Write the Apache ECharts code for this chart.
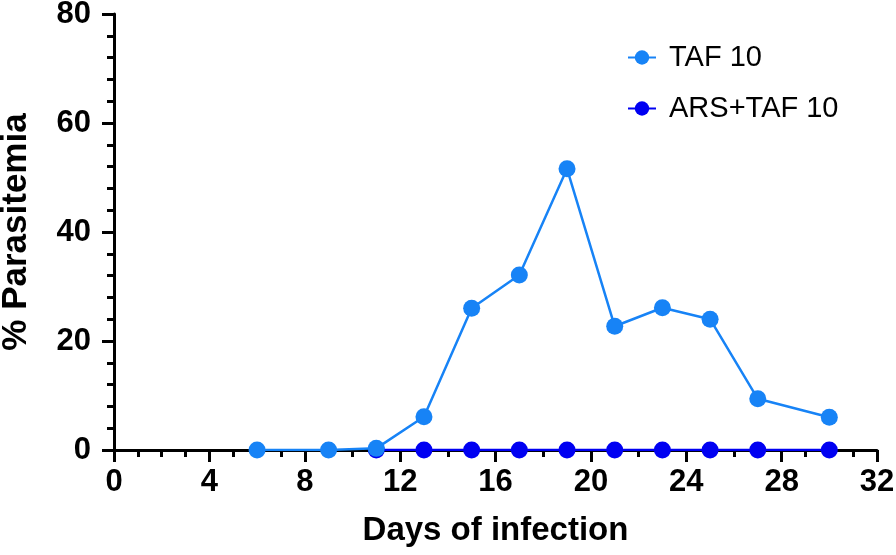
<!DOCTYPE html>
<html><head><meta charset="utf-8">
<script src="https://cdn.jsdelivr.net/npm/echarts@6/dist/echarts.min.js"></script>
<style>html,body{margin:0;padding:0;background:#fff}#c{width:896px;height:555px}</style>
</head><body><div id="c"></div>
<script>
const tafDays = [6, 9, 11, 13, 15, 17, 19, 21, 23, 25, 27, 30];
const tafValues = [0, 0, 0.3, 6.1, 26, 32.1, 51.6, 22.7, 26.1, 24, 9.4, 6];
const arsDays = [11, 13, 15, 17, 19, 21, 23, 25, 27, 30];
const arsValues = [0, 0, 0, 0, 0, 0, 0, 0, 0, 0];
const xTicks = [0, 4, 8, 12, 16, 20, 24, 28, 32];
const yTicks = [0, 20, 40, 60, 80];

const F = 'Liberation Sans, Arial, sans-serif';
const chart = echarts.init(document.getElementById('c'));
chart.setOption({
  animation: false,
  grid: {left: 114, right: 19, top: 14, bottom: 105, containLabel: false, outerBoundsMode: 'none'},
  legend: {
    orient: 'vertical', left: 622, top: 38, itemGap: 22,
    itemWidth: 28, itemHeight: 18,
    textStyle: {fontFamily: F, fontSize: 29, color: '#000', padding: [0, 0, 0, 8]},
    data: ['TAF 10', 'ARS+TAF 10']
  },
  xAxis: {
    type: 'value', min: xTicks[0], max: xTicks[xTicks.length-1], interval: 4,
    name: 'Days of infection', nameLocation: 'middle', nameGap: 64,
    nameTextStyle: {fontFamily: F, fontSize: 33, fontWeight: 'bold', color: '#000'},
    axisLine: {show: true, lineStyle: {color: '#000', width: 3}},
    axisTick: {show: true, length: 12, lineStyle: {color: '#000', width: 3}},
    minorTick: {show: true, splitNumber: 4, length: 7, lineStyle: {color: '#000', width: 3}},
    splitLine: {show: false},
    axisLabel: {fontFamily: F, fontSize: 31, fontWeight: 'bold', color: '#000', margin: 17}
  },
  yAxis: {
    type: 'value', min: yTicks[0], max: yTicks[yTicks.length-1], interval: 20,
    name: '% Parasitemia', nameLocation: 'middle', nameGap: 80,
    nameTextStyle: {fontFamily: F, fontSize: 35, fontWeight: 'bold', color: '#000'},
    axisLine: {show: true, lineStyle: {color: '#000', width: 3}},
    axisTick: {show: true, length: 12, lineStyle: {color: '#000', width: 3}},
    minorTick: {show: true, splitNumber: 5, length: 7, lineStyle: {color: '#000', width: 3}},
    splitLine: {show: false},
    axisLabel: {fontFamily: F, fontSize: 31, fontWeight: 'bold', color: '#000', margin: 23}
  },
  series: [
    {
      name: 'ARS+TAF 10', type: 'line', z: 2,
      data: arsDays.map((d, i) => [d, arsValues[i]]),
      symbol: 'circle', symbolSize: 17,
      itemStyle: {color: '#0000f2'},
      lineStyle: {color: '#0000f2', width: 2.5}
    },
    {
      name: 'TAF 10', type: 'line', z: 3,
      data: tafDays.map((d, i) => [d, tafValues[i]]),
      symbol: 'circle', symbolSize: 17,
      itemStyle: {color: '#1783f6'},
      lineStyle: {color: '#1783f6', width: 2.5}
    }
  ]
});
</script></body></html>
